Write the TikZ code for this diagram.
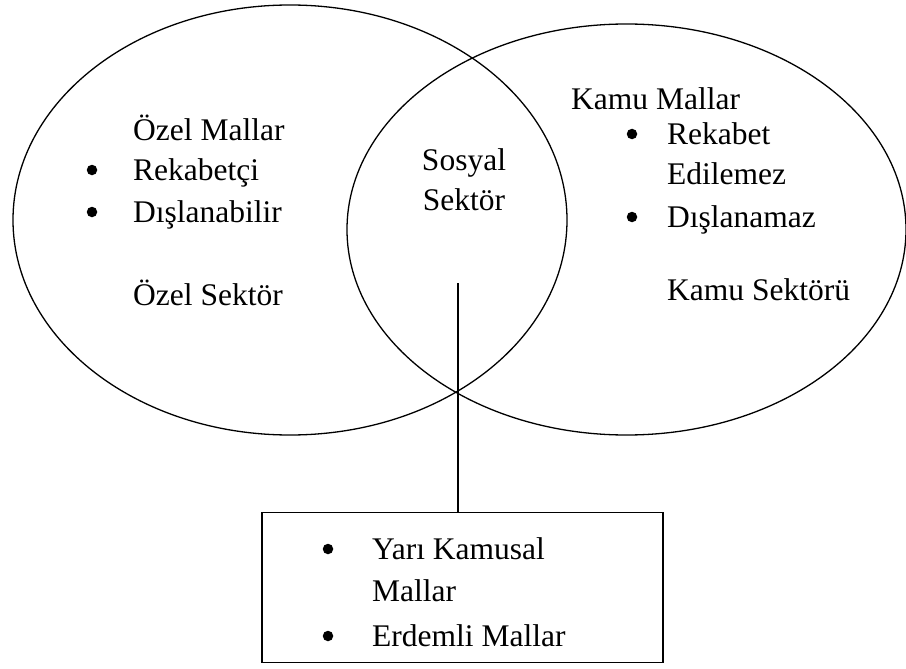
\documentclass[tikz,border=0pt]{standalone}
\usepackage{fontspec}
\setmainfont{Liberation Serif}
\usetikzlibrary{shapes.geometric}
\begin{document}
\begin{tikzpicture}[x=1pt,y=-1pt,
  sector/.style={draw, ellipse, line width=1.3pt, inner sep=0pt, outer sep=0pt},
  lbl/.style={anchor=base west, inner sep=0pt, font=\fontsize{31.5}{38}\selectfont},
  ctr/.style={anchor=base, inner sep=0pt, font=\fontsize{31.5}{38}\selectfont},
  bul/.style={circle, fill=black, inner sep=0pt, minimum size=10.5pt},
  listbox/.style={draw, line width=1.3pt, inner sep=0pt, outer sep=0pt, minimum width=401pt, minimum height=150pt}]
\useasboundingbox (0,0) rectangle (906,669);

% the two overlapping sectors
\node[sector, minimum width=554pt, minimum height=430pt] (ozel) at (290,220) {};
\node[sector, minimum width=559pt, minimum height=411pt] (kamu) at (626.5,229.5) {};

% private sector
\node[lbl] (ozelmal) at (133,140) {Özel Mallar};
\node[bul] (b1) at (92,170) {};
\node[lbl] (rek) at (133,180) {Rekabetçi};
\node[bul] (b2) at (92,212) {};
\node[lbl] (disla) at (133,222) {Dışlanabilir};
\node[lbl] (ozelsek) at (133,305) {Özel Sektör};

% public sector
\node[lbl] (kamumal) at (571,110) {Kamu Mallar};
\node[bul] (b3) at (632,134) {};
\node[lbl] (rekb) at (667,144) {Rekabet};
\node[lbl] (edil) at (667,184) {Edilemez};
\node[bul] (b4) at (632,217) {};
\node[lbl] (dislam) at (667,227) {Dışlanamaz};
\node[lbl] (kamusek) at (667,300) {Kamu Sektörü};

% social sector in the overlap
\node[ctr] (sosyal) at (464,171) {Sosyal};
\node[ctr] (sektor) at (464,210) {Sektör};

% list of mixed goods
\node[listbox] (box) at (462.5,587.5) {};
\node[bul] (b5) at (328,549) {};
\node[lbl] (yari) at (372,559) {Yarı Kamusal};
\node[lbl] (mallar) at (372,601) {Mallar};
\node[bul] (b6) at (328,636) {};
\node[lbl] (erdem) at (372,646) {Erdemli Mallar};

% connector from the overlap to the list
\coordinate (tail) at (458,283);
\draw[line width=1.3pt] (tail) -- (tail |- box.north);
\end{tikzpicture}
\end{document}
